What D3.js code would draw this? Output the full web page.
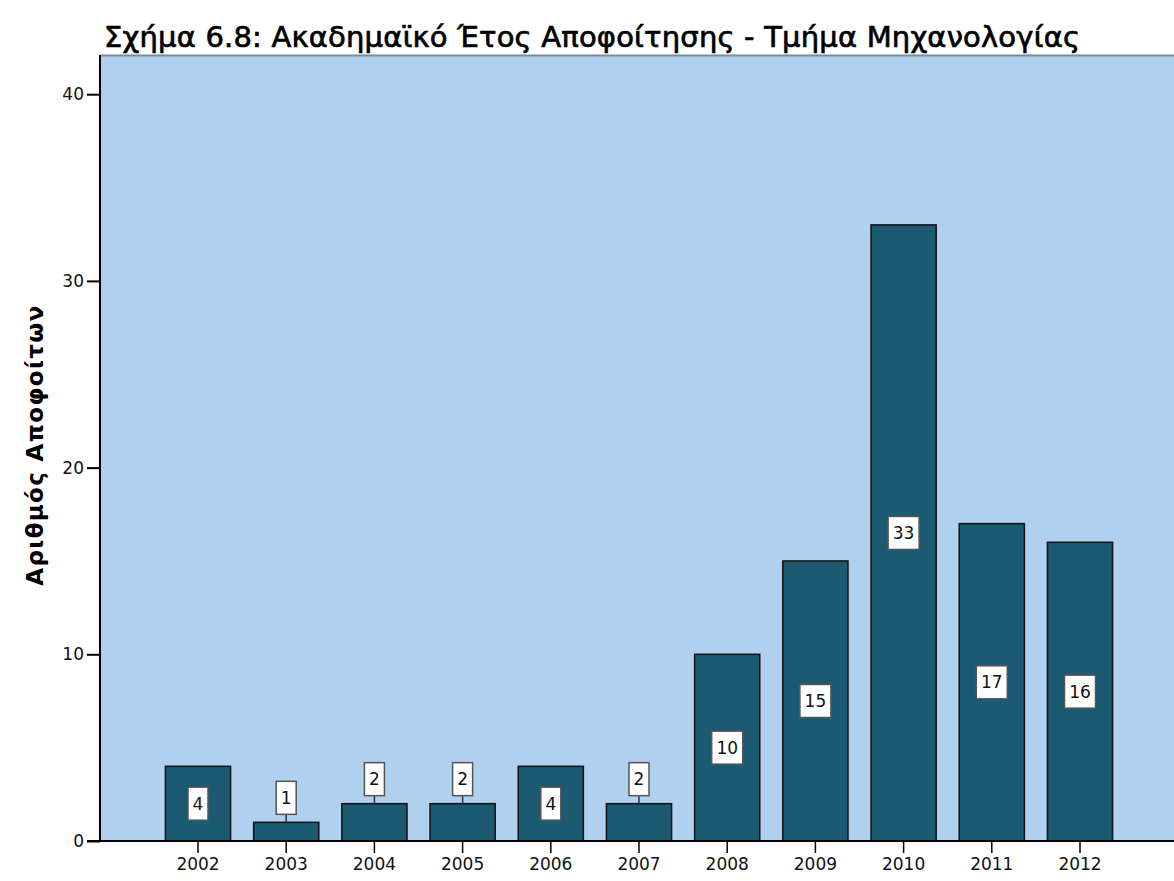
<!DOCTYPE html>
<html>
<head>
<meta charset="utf-8">
<script src="https://d3js.org/d3.v7.min.js"></script>
<style>
  body { margin: 0; background: #fff; }
  svg text { font-family: "DejaVu Sans", Verdana, sans-serif; }
</style>
</head>
<body>
<svg id="chart" width="1174" height="881"></svg>
<script>
var years = ["2002", "2003", "2004", "2005", "2006", "2007", "2008", "2009", "2010", "2011", "2012"];
var counts = [4, 1, 2, 2, 4, 2, 10, 15, 33, 17, 16];
var yTicks = [0, 10, 20, 30, 40];
var title = "Σχήμα 6.8: Ακαδημαϊκό Έτος Αποφοίτησης - Τμήμα Μηχανολογίας";
var yTitle = "Αριθμός Αποφοίτων";

var data = years.map(function(y, i){ return {year: y, n: counts[i]}; });

var svg = d3.select("#chart");
var plot = {left: 100, top: 55, right: 1180, bottom: 841};

// stretch a text to a wanted width with letter spacing
function fitWidth(sel, w){
  var node = sel.node();
  var cur = node.getComputedTextLength();
  var n = sel.text().length;
  if (n > 1) sel.attr("letter-spacing", (w - cur) / (n - 1));
}

// plot background
svg.append("rect")
  .attr("x", plot.left)
  .attr("y", plot.top)
  .attr("width", plot.right - plot.left)
  .attr("height", plot.bottom - plot.top)
  .attr("fill", "#afd0ee");
svg.append("line")
  .attr("x1", plot.left).attr("x2", plot.right)
  .attr("y1", plot.top + 0.5).attr("y2", plot.top + 0.5)
  .attr("stroke", "#7d8a96").attr("stroke-width", 2);

var x = d3.scaleBand()
  .domain(years)
  .range([153.9, 1124.1])
  .paddingInner(0.25)
  .paddingOuter(0.125);

var y = d3.scaleLinear()
  .domain([0, 42.1])
  .range([plot.bottom, plot.top]);

// bars
svg.append("g").selectAll("rect")
  .data(data)
  .enter().append("rect")
  .attr("x", function(d){ return x(d.year) + 0.5; })
  .attr("y", function(d){ return y(d.n); })
  .attr("width", x.bandwidth() - 1)
  .attr("height", function(d){ return y(0) - y(d.n); })
  .attr("fill", "#1c5a71")
  .attr("stroke", "#111")
  .attr("stroke-width", 1.5);

// y axis
var yAxis = svg.append("g")
  .attr("transform", "translate(" + plot.left + ",0)")
  .call(d3.axisLeft(y).tickValues(yTicks).tickSize(13).tickPadding(3));
yAxis.attr("font-family", null).attr("font-size", null);
yAxis.select(".domain").remove();
yAxis.append("line")
  .attr("x1", 0).attr("x2", 0)
  .attr("y1", plot.top).attr("y2", plot.bottom)
  .attr("stroke", "#000").attr("stroke-width", 2);
yAxis.selectAll(".tick line").attr("stroke-width", 2);
yAxis.selectAll(".tick text")
  .style("font-size", "17px")
  .attr("fill", "#111");

// x axis
var xAxis = svg.append("g")
  .attr("transform", "translate(0," + plot.bottom + ")")
  .call(d3.axisBottom(x).tickSize(12).tickPadding(5));
xAxis.attr("font-family", null).attr("font-size", null);
xAxis.select(".domain").remove();
xAxis.append("line")
  .attr("x1", plot.left - 13).attr("x2", plot.right)
  .attr("y1", 0).attr("y2", 0)
  .attr("stroke", "#000").attr("stroke-width", 2);
xAxis.selectAll(".tick line").attr("stroke-width", 1.5);
xAxis.selectAll(".tick text")
  .style("font-size", "17px")
  .attr("fill", "#111");

// value labels
var boxH = 33;
var labels = svg.append("g").selectAll("g")
  .data(data)
  .enter().append("g")
  .attr("transform", function(d){
    var cx = x(d.year) + x.bandwidth() / 2;
    var barH = y(0) - y(d.n);
    var cy = barH < boxH + 8 ? y(d.n) - 8 - boxH / 2 : y(d.n / 2);
    return "translate(" + cx + "," + cy + ")";
  });

labels.filter(function(d){ return y(0) - y(d.n) < boxH + 8; })
  .append("line")
  .attr("x1", 0).attr("x2", 0)
  .attr("y1", boxH / 2)
  .attr("y2", boxH / 2 + 8)
  .attr("stroke", "#333").attr("stroke-width", 1.5);

labels.append("rect")
  .attr("x", function(d){ return d.n >= 10 ? -15.5 : -10; })
  .attr("y", -boxH / 2)
  .attr("width", function(d){ return d.n >= 10 ? 31 : 20; })
  .attr("height", boxH)
  .attr("fill", "#fff")
  .attr("stroke", "#555")
  .attr("stroke-width", 1.5);

labels.append("text")
  .attr("text-anchor", "middle")
  .attr("dy", "0.36em")
  .style("font-size", "17px")
  .attr("fill", "#111")
  .text(function(d){ return d.n; });

// titles
var t = svg.append("text")
  .attr("x", 104)
  .attr("y", 47)
  .style("font-size", "29px")
  .attr("fill", "#000")
  .attr("stroke", "#000")
  .attr("stroke-width", 0.7)
  .text(title);
fitWidth(t, 976);

var yt = svg.append("text")
  .attr("transform", "translate(43,445) rotate(-90)")
  .attr("text-anchor", "middle")
  .style("font-size", "23px")
  .style("font-weight", "bold")
  .attr("fill", "#000")
  .text(yTitle);
fitWidth(yt, 280);
</script>
</body>
</html>
